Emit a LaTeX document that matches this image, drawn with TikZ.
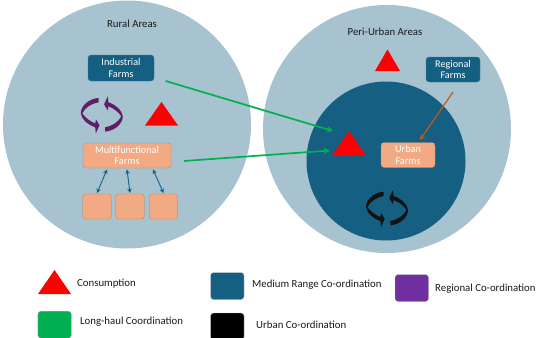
\documentclass[tikz,border=0pt]{standalone}
\usepackage{fontspec}
\setmainfont{Carlito}
\usetikzlibrary{shapes.geometric,arrows.meta}
\definecolor{pale}{HTML}{A6C3CF}
\definecolor{deep}{HTML}{156082}
\definecolor{peach}{HTML}{F2AA84}
\definecolor{lgreen}{HTML}{00B050}
\definecolor{lpurple}{HTML}{7030A0}
\definecolor{cyclepurple}{HTML}{5F1F68}
\definecolor{brownline}{HTML}{C0581E}
\tikzset{
  area/.style={circle,fill=pale,draw=none,minimum size=248pt,inner sep=0pt,outer sep=0pt},
  farm/.style={rectangle,rounded corners=3pt,inner sep=0pt,outer sep=0pt,align=center,text=white,font=\fontsize{10.2}{11.2}\selectfont},
  deepfarm/.style={farm,fill=deep,draw=deep!70!pale,line width=0.3pt},
  peachfarm/.style={farm,fill=peach,draw=black!25!peach,line width=0.3pt},
  consume/.style={isosceles triangle,isosceles triangle stretches=true,shape border rotate=90,fill=red,draw=none,inner sep=0pt,outer sep=0pt,anchor=lower side},
  keybox/.style={rectangle,rounded corners=3pt,minimum width=33.5pt,minimum height=27pt,inner sep=0pt,draw=black!25,line width=0.3pt},
  lab/.style={anchor=west,inner sep=0pt,text=black!90,font=\fontsize{10.8}{12}\selectfont},
  areatext/.style={inner sep=0pt,text=black!90,font=\fontsize{10.8}{12}\selectfont},
  longhaul/.style={draw=lgreen,line width=1.7pt,-{Stealth[length=6.5pt,width=6.5pt]}},
  medium/.style={draw=deep,line width=0.9pt,{Stealth[length=4.5pt,width=4.5pt]}-{Stealth[length=4.5pt,width=4.5pt]}},
  regional/.style={draw=brownline,line width=1.2pt,-{Stealth[length=5.5pt,width=5.5pt]}}
}
\newcommand{\halfcycle}[1]{%
  \fill[#1] (-3.3,-16.8) .. controls (-13,-16) and (-21,-9) .. (-21,-1.5)
    .. controls (-20,5) and (-14,10) .. (-6.6,12.5) -- (-6,18.5) -- (-2.3,10.5) -- (-5.8,4.5) -- (-6.6,8.5)
    .. controls (-12,6.5) and (-17,2.5) .. (-19.5,-1.5)
    .. controls (-17,-7) and (-10,-11.5) .. (-3.3,-12.5) -- cycle;}
\begin{document}
\begin{tikzpicture}[x=1pt,y=-1pt]
\useasboundingbox (0,0) rectangle (537,337);
\node[area] (rural) at (127,124.5) {};
\node[area] (peri) at (387,129) {};
\node[circle,fill=deep,minimum size=159pt,inner sep=0pt,outer sep=0pt] (inner) at (386,161) {};
\node[areatext] (ruraltext) at (132,24) {Rural Areas};
\node[areatext] (peritext) at (385,32) {Peri-Urban Areas};
\node[deepfarm,minimum width=66pt,minimum height=26pt] (ind) at (121,68) {Industrial\\Farms};
\node[peachfarm,minimum width=88pt,minimum height=25pt] (multi) at (127,155.5) {Multifunctional\\Farms};
\node[peachfarm,minimum width=28.5pt,minimum height=25pt] (s1) at (97,206.5) {};
\node[peachfarm,minimum width=28.5pt,minimum height=25pt] (s2) at (130,206.5) {};
\node[peachfarm,minimum width=28.5pt,minimum height=25pt] (s3) at (163.5,206.5) {};
\node[deepfarm,minimum width=54pt,minimum height=25pt] (reg) at (453,69.5) {Regional\\Farms};
\node[peachfarm,minimum width=54pt,minimum height=25pt] (urb) at (408,155) {Urban\\Farms};
\node[consume,minimum width=33pt,minimum height=23.5pt] (t1) at (161.5,125.5) {};
\node[consume,minimum width=25pt,minimum height=21.5pt] (t2) at (387.5,71) {};
\node[consume,minimum width=33pt,minimum height=24pt] (t3) at (349,155) {};
\begin{scope}[shift={(101.8,114.8)}]
  \halfcycle{cyclepurple}
  \begin{scope}[rotate=180]\halfcycle{cyclepurple}\end{scope}
\end{scope}
\begin{scope}[shift={(387,208.5)}]
  \halfcycle{black!93}
  \begin{scope}[rotate=180]\halfcycle{black!93}\end{scope}
\end{scope}
\draw[longhaul] ([shift={(11.7,0)}]ind.south east) -- ([shift={(-16,0)}]t3.apex);
\draw[longhaul] ([shift={(13,5.5)}]multi.east) -- ([shift={(-19,-4.5)}]t3.lower side);
\draw[regional] ([shift={(0,10)}]reg.south) -- ([shift={(39,-2.5)}]urb.north west);
\draw[medium] ([shift={(-20,1.5)}]multi.south) -- ([shift={(0,-1)}]s1.north);
\draw[medium] ([shift={(0,1.5)}]multi.south) -- ([shift={(0,-1)}]s2.north);
\draw[medium] ([shift={(26,1.5)}]multi.south) -- ([shift={(0,-1)}]s3.north);
\node[consume,minimum width=33pt,minimum height=24pt] (kt) at (54.5,294) {};
\node[keybox,fill=deep] (kmed) at (227.3,286) {};
\node[keybox,fill=lpurple] (kreg) at (411.8,288) {};
\node[keybox,fill=lgreen] (klong) at (54.6,324.7) {};
\node[keybox,fill=black] (kurb) at (227.3,326.5) {};
\node[lab] (tc) at (77,283.6) {Consumption};
\node[lab] (tm) at (252,284.5) {Medium Range Co-ordination};
\node[lab] (tr) at (435,288.5) {Regional Co-ordination};
\node[lab] (tl) at (80,322) {Long-haul Coordination};
\node[lab] (tu) at (256,325) {Urban Co-ordination};
\end{tikzpicture}
\end{document}
